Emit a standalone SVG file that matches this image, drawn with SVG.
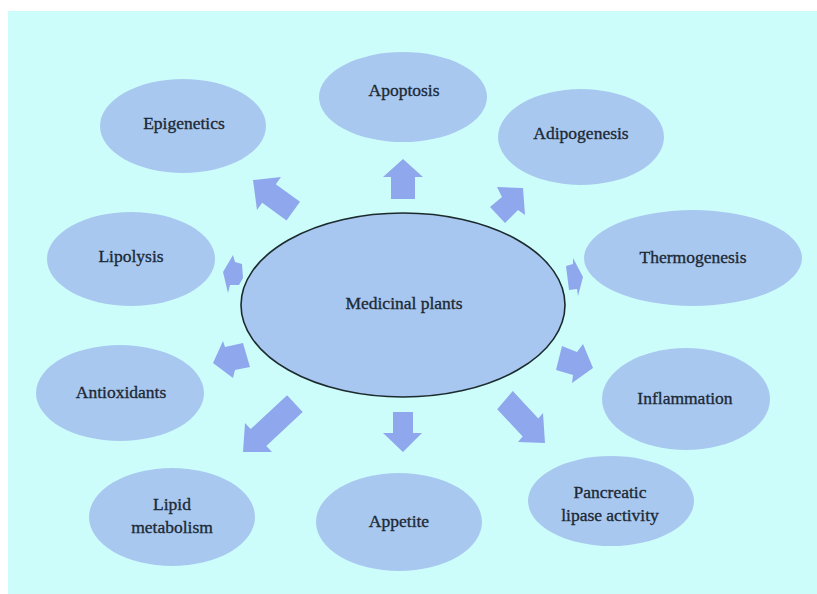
<svg xmlns="http://www.w3.org/2000/svg" width="817" height="594" viewBox="0 0 817 594">
<style>
.n{fill:#a9c8f0}
.c{fill:#a7c6f0;stroke:#1b2a2c;stroke-width:1.6}
.a{fill:#8fa7ec}
text{font-family:"Liberation Serif","Times New Roman",serif;font-size:17.5px;fill:#1c2a36;stroke:#1c2a36;stroke-width:0.35;text-anchor:middle}
</style>
<rect width="817" height="594" fill="#ffffff"/>
<rect x="8" y="11" width="809" height="583" fill="#cdfdfb"/>
<g id="connectors">
<polygon class="a" points="403,159 423,177 415,177 415,199 391,199 391,177 383,177"/>
<polygon class="a" points="403,452 422,433 413,433 413,412 393,412 393,433 383,433"/>
<polygon class="a" points="253,180 281,177 275.8,184.2 300,201.8 286.5,220.4 262.2,202.8 257,210"/>
<polygon class="a" points="523,188 525,215 518,210 505,223 490,207 502,197 497,187"/>
<polygon class="a" points="223,272 233,255 235,262 242,264 243,278 239,285 230,285 228,293"/>
<polygon class="a" points="583,277 578,296 577,289 569,290 566,266 573,264 573,258"/>
<polygon class="a" points="213,363 223,341 225,347 243,343 250,367 235,370 233,378"/>
<polygon class="a" points="593,368 572,383 573,375 556,370 562,346 577,352 583,344"/>
<polygon class="a" points="243,452 245,423 250.7,429.1 287.1,395.2 302.7,412 266.3,445.9 272,452"/>
<polygon class="a" points="545,443 518,442 522.7,436.6 497.2,409.2 512.8,391 538.3,418.4 543,413"/>
</g>
<g id="center"><ellipse class="c" cx="403" cy="305" rx="162" ry="92"/><text x="404" y="309">Medicinal plants</text></g>
<g id="epigenetics"><ellipse class="n" cx="183" cy="126" rx="83" ry="47"/><text x="184" y="129">Epigenetics</text></g>
<g id="apoptosis"><ellipse class="n" cx="403" cy="97" rx="84" ry="45"/><text x="404" y="96">Apoptosis</text></g>
<g id="adipogenesis"><ellipse class="n" cx="581" cy="137" rx="83" ry="48"/><text x="581" y="139">Adipogenesis</text></g>
<g id="thermogenesis"><ellipse class="n" cx="693" cy="258" rx="109" ry="48"/><text x="693" y="263">Thermogenesis</text></g>
<g id="lipolysis"><ellipse class="n" cx="131" cy="259" rx="84" ry="47"/><text x="131" y="262">Lipolysis</text></g>
<g id="antioxidants"><ellipse class="n" cx="120" cy="393" rx="84" ry="48"/><text x="121" y="398">Antioxidants</text></g>
<g id="inflammation"><ellipse class="n" cx="686" cy="399" rx="84" ry="51"/><text x="685" y="404">Inflammation</text></g>
<g id="lipid-metabolism"><ellipse class="n" cx="172" cy="517" rx="83" ry="49"/><text x="172" y="510">Lipid</text><text x="172" y="533">metabolism</text></g>
<g id="appetite"><ellipse class="n" cx="399" cy="522" rx="83" ry="49"/><text x="399" y="527">Appetite</text></g>
<g id="pancreatic"><ellipse class="n" cx="611" cy="501" rx="83" ry="45"/><text x="610" y="498">Pancreatic</text><text x="610" y="521">lipase activity</text></g>
</svg>
